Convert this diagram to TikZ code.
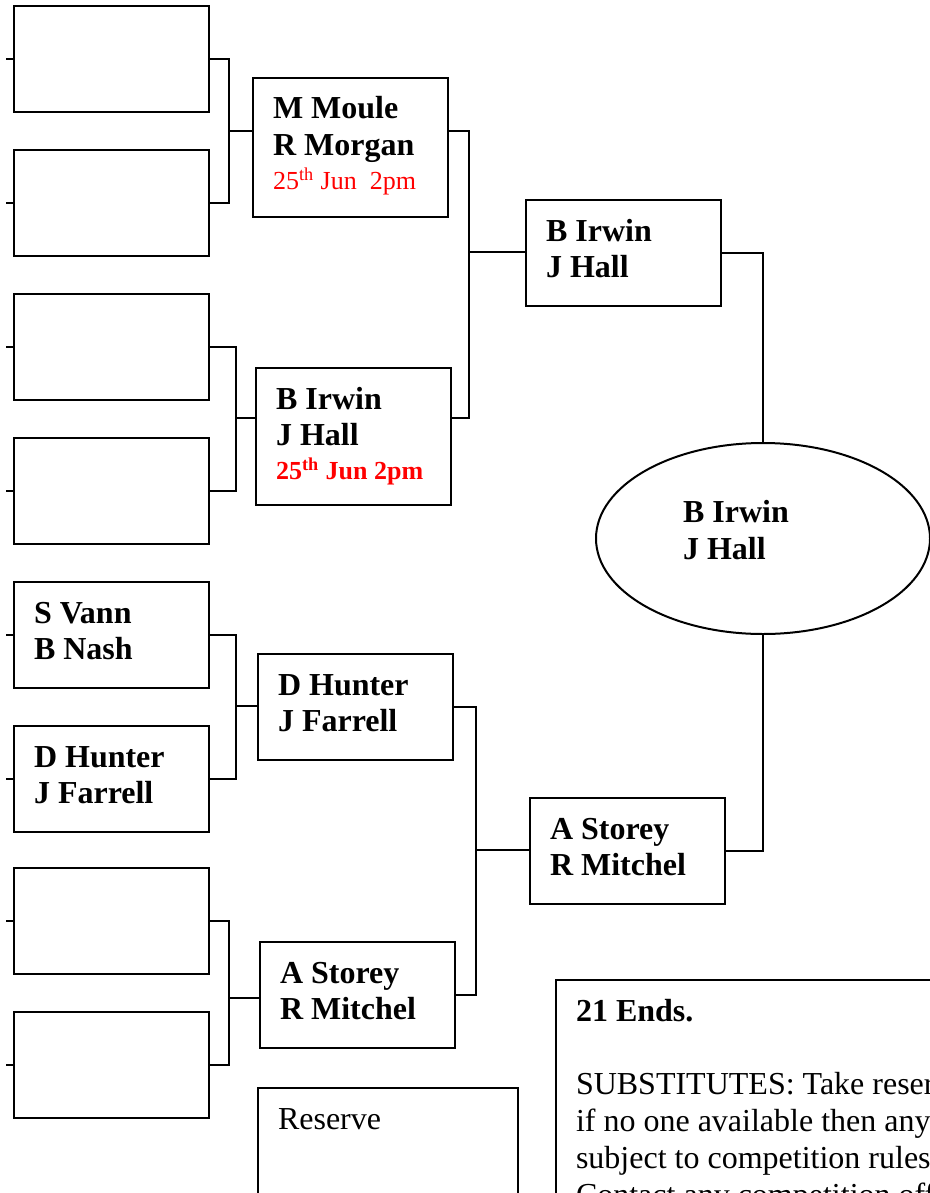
\documentclass[tikz,border=0pt]{standalone}
\usepackage{fontspec}
\setmainfont{Liberation Serif}
\usetikzlibrary{shapes.geometric}
\definecolor{datered}{RGB}{255, 0, 0}
\newcommand\teamfont{\fontsize{16pt}{18.4pt}\selectfont\bfseries}
\newcommand\notefont{\fontsize{16pt}{18.4pt}\selectfont}
\newcommand\datefont{\fontsize{13pt}{15pt}\selectfont}
\tikzset{
  team/.style={rectangle, draw, line width=1pt, anchor=north west, inner xsep=10pt, inner ysep=0pt,
               text width=77.5pt, align=flush left, text height=20.5pt, text depth=#1, font=\teamfont},
  team/.default=32.5pt,
  final/.style={ellipse, draw, line width=1pt, minimum width=167pt, minimum height=95.5pt, inner sep=0pt,
                text width=80pt, align=flush left, text height=11pt, text depth=27pt, font=\teamfont},
  link/.style={line width=1pt},
}

\begin{document}
\begin{tikzpicture}[x=0.5pt, y=-0.5pt]
  \useasboundingbox (0,0) rectangle (930,1193);
  \clip (0,0) rectangle (930,1193);
  % round one
  \node[team] (l1) at (13,5) {};
  \node[team] (l2) at (13,149) {};
  \node[team] (l3) at (13,293) {};
  \node[team] (l4) at (13,437) {};
  \node[team] (l5) at (13,581) {S Vann\\B Nash};
  \node[team] (l6) at (13,725) {D Hunter\\J Farrell};
  \node[team] (l7) at (13,867) {};
  \node[team] (l8) at (13,1011) {};
  % round two
  \node[team=49pt] (m1) at (252,77) {M Moule\\R Morgan\\[-1.5pt]{\mdseries\datefont\color{datered}25\textsuperscript{th} Jun\ \ 2pm}};
  \node[team=48pt] (m2) at (255,367) {B Irwin\\J Hall\\[-1.5pt]{\datefont\color{datered}25\textsuperscript{th} Jun 2pm}};
  \node[team] (m3) at (257,653) {D Hunter\\J Farrell};
  \node[team] (m4) at (259,941) {A Storey\\R Mitchel};
  % semis and final
  \node[team] (q1) at (525,199) {B Irwin\\J Hall};
  \node[team] (q2) at (529,797) {A Storey\\R Mitchel};
  \node[final] (win) at (763,538.5) {B Irwin\\J Hall};
  \node[team, text width=110pt, font=\notefont] (res) at (257,1087) {Reserve};
  \node[team=150pt, text width=250pt, font=\notefont] (note) at (555,979)
       {\textbf{21 Ends.}\\[18.4pt]
        SUBSTITUTES: Take reserve\\
        if no one available then any\\
        subject to competition rules\\
        Contact any competition official};
  \coordinate (b1) at (229,131);
  \coordinate (b2) at (236,418);
  \coordinate (b3) at (236,706);
  \coordinate (b4) at (229,998);
  \coordinate (b5) at (469,252);
  \coordinate (b6) at (476,850);
  \foreach \n in {l1,l2,l3,l4,l5,l6,l7,l8}
    \draw[link] (\n.west) -- ++(-7,0);
  \draw[link] (l1.east) -| (b1) |- (l2.east);
  \draw[link] (l3.east) -| (b2) |- (l4.east);
  \draw[link] (l5.east) -| (b3) |- (l6.east);
  \draw[link] (l7.east) -| (b4) |- (l8.east);
  \draw[link] (b1) -- (b1 -| m1.west);
  \draw[link] (b2) -- (b2 -| m2.west);
  \draw[link] (b3) -- (b3 -| m3.west);
  \draw[link] (b4) -- (b4 -| m4.west);
  \draw[link] (b1 -| m1.east) -| (b5) |- (b2 -| m2.east);
  \draw[link] (m3.east) -| (b6) |- (m4.east);
  \draw[link] (b5) -- (b5 -| q1.west);
  \draw[link] (b6) -- (b6 -| q2.west);
  \draw[link] (q1.east) -| (win.north);
  \draw[link] (q2.east) -| (win.south);
\end{tikzpicture}
\end{document}
